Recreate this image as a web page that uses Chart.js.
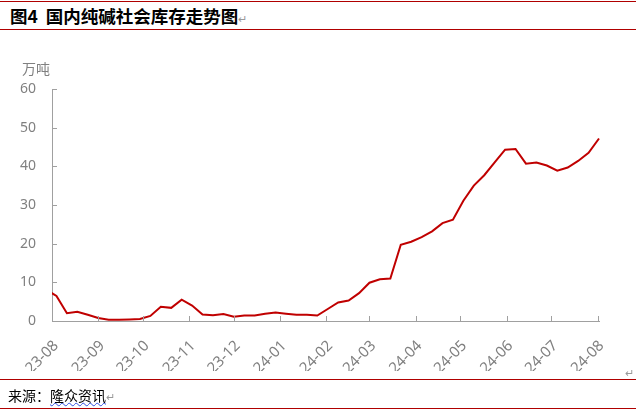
<!DOCTYPE html>
<html lang="zh">
<head>
<meta charset="UTF-8">
<title>国内纯碱社会库存走势图</title>
<script src="https://cdn.jsdelivr.net/npm/chart.js@4/dist/chart.umd.min.js"></script>
<style>
  html, body { margin: 0; padding: 0; background: #fff; }
  #wrap { position: relative; width: 636px; height: 412px; overflow: hidden; font-family: "Noto Sans CJK SC", sans-serif; }
  .rule { position: absolute; left: 0; width: 636px; height: 1px; background: #b00000; }
  #title { position: absolute; left: 10px; top: 3px; font-size: 17.5px; font-weight: bold; color: #000; white-space: pre; }
  #unit { position: absolute; left: 22px; top: 58px; font-size: 14px; color: #808080; }
  #source { position: absolute; left: 8px; top: 385px; font-size: 14px; color: #000; }
  #source span { text-decoration: underline wavy #3050e0; text-decoration-thickness: 1px; }
  .mark { color: #999; font-size: 11px; font-weight: normal; }
  #mark2 { position: absolute; left: 625px; top: 364px; }
  canvas { position: absolute; left: 0; top: 0; }
</style>
</head>
<body>
<div id="wrap">
  <div class="rule" style="top:1px"></div>
  <div id="title">图4  国内纯碱社会库存走势图<span class="mark">↵</span></div>
  <div class="rule" style="top:29px"></div>
  <canvas id="chart" width="636" height="412"></canvas>
  <div id="unit">万吨</div>
  <div class="mark" id="mark2">↵</div>
  <div class="rule" style="top:379px"></div>
  <div id="source">来源：<span>隆众资讯</span><span class="mark" style="text-decoration:none">↵</span></div>
  <div class="rule" style="top:408px"></div>
</div>

<script>
// weekly dates (Fridays), first one sits just before the axis start
var dates = [
  '2023-07-28','2023-08-04','2023-08-11','2023-08-18','2023-08-25',
  '2023-09-01','2023-09-08','2023-09-15','2023-09-22','2023-09-29',
  '2023-10-06','2023-10-13','2023-10-20','2023-10-27',
  '2023-11-03','2023-11-10','2023-11-17','2023-11-24',
  '2023-12-01','2023-12-08','2023-12-15','2023-12-22','2023-12-29',
  '2024-01-05','2024-01-12','2024-01-19','2024-01-26',
  '2024-02-02','2024-02-09','2024-02-16','2024-02-23',
  '2024-03-01','2024-03-08','2024-03-15','2024-03-22','2024-03-29',
  '2024-04-05','2024-04-12','2024-04-19','2024-04-26',
  '2024-05-03','2024-05-10','2024-05-17','2024-05-24','2024-05-31',
  '2024-06-07','2024-06-14','2024-06-21','2024-06-28',
  '2024-07-05','2024-07-12','2024-07-19','2024-07-26',
  '2024-08-02'
];
var stock = [
  8.1, 6.5, 2.0, 2.4, 1.6,
  0.8, 0.3, 0.3, 0.4, 0.5,
  1.3, 3.7, 3.4, 5.5,
  4.0, 1.7, 1.5, 1.8,
  1.1, 1.4, 1.4, 1.9, 2.2,
  1.9, 1.6, 1.6, 1.4,
  3.1, 4.8, 5.3, 7.2,
  9.9, 10.8, 11.0, 19.7, 20.5,
  21.7, 23.2, 25.3, 26.2,
  31.1, 35.0, 37.7, 41.0, 44.3,
  44.5, 40.7, 41.0, 40.2,
  38.9, 39.7, 41.4, 43.5,
  47.2
];
var monthLabels = ['23-08','23-09','23-10','23-11','23-12','24-01','24-02','24-03','24-04','24-05','24-06','24-07','24-08'];
var yTicks = [0, 10, 20, 30, 40, 50, 60];
var axisStart = '2023-08-01';
var axisEnd = '2024-08-02';

function dayOf(s) {
  var p = s.split('-');
  var a = axisStart.split('-');
  return (Date.UTC(+p[0], p[1] - 1, +p[2]) - Date.UTC(+a[0], a[1] - 1, +a[2])) / 86400000;
}
var monthDays = monthLabels.map(function (m) { return dayOf('20' + m + '-01'); });

var points = dates.map(function (d, i) { return { x: dayOf(d), y: stock[i] }; });

var grey = '#808080';
var axisColor = '#a0a0a0';

// short tick marks pointing into the plot
var innerTicks = {
  id: 'innerTicks',
  afterDraw: function (chart) {
    var c = chart.ctx, a = chart.chartArea;
    var xs = chart.scales.x, ys = chart.scales.y;
    c.save();
    c.strokeStyle = axisColor;
    c.lineWidth = 1;
    c.beginPath();
    xs.ticks.forEach(function (t) {
      var px = Math.round(xs.getPixelForValue(t.value)) + 0.5;
      c.moveTo(px, a.bottom);
      c.lineTo(px, a.bottom - 5);
    });
    ys.ticks.forEach(function (t) {
      var py = Math.round(ys.getPixelForValue(t.value)) + 0.5;
      c.moveTo(a.left, py);
      c.lineTo(a.left + 5, py);
    });
    c.stroke();
    c.restore();
  }
};

new Chart(document.getElementById('chart'), {
  type: 'line',
  data: {
    datasets: [{
      data: points,
      borderColor: '#c00000',
      borderWidth: 2,
      pointRadius: 0,
      tension: 0,
      clip: { left: 0, right: 2, top: 2, bottom: 2 }
    }]
  },
  options: {
    responsive: false,
    animation: false,
    layout: { padding: { left: 12, right: 37, top: 89, bottom: 41 } },
    plugins: { legend: { display: false }, tooltip: { enabled: false } },
    scales: {
      x: {
        type: 'linear',
        min: 0,
        max: dayOf(axisEnd),
        afterBuildTicks: function (s) { s.ticks = monthDays.map(function (v) { return { value: v }; }); },
        afterFit: function (s) { s.height = 50; },
        grid: { drawOnChartArea: false, drawTicks: false },
        border: { display: true, color: axisColor },
        ticks: {
          autoSkip: false,
          minRotation: 45,
          maxRotation: 45,
          padding: 16,
          labelOffset: 4,
          color: grey,
          font: { family: 'Noto Sans', size: 15 },
          callback: function (v, i) { return monthLabels[i]; }
        }
      },
      y: {
        min: 0,
        max: 60,
        afterBuildTicks: function (s) { s.ticks = yTicks.map(function (v) { return { value: v }; }); },
        afterFit: function (s) { s.width = 40; },
        grid: { drawOnChartArea: false, drawTicks: false },
        border: { display: true, color: axisColor },
        ticks: {
          padding: 16,
          color: grey,
          font: { family: 'Noto Sans', size: 14 }
        }
      }
    }
  },
  plugins: [innerTicks]
});
</script>
</body>
</html>
